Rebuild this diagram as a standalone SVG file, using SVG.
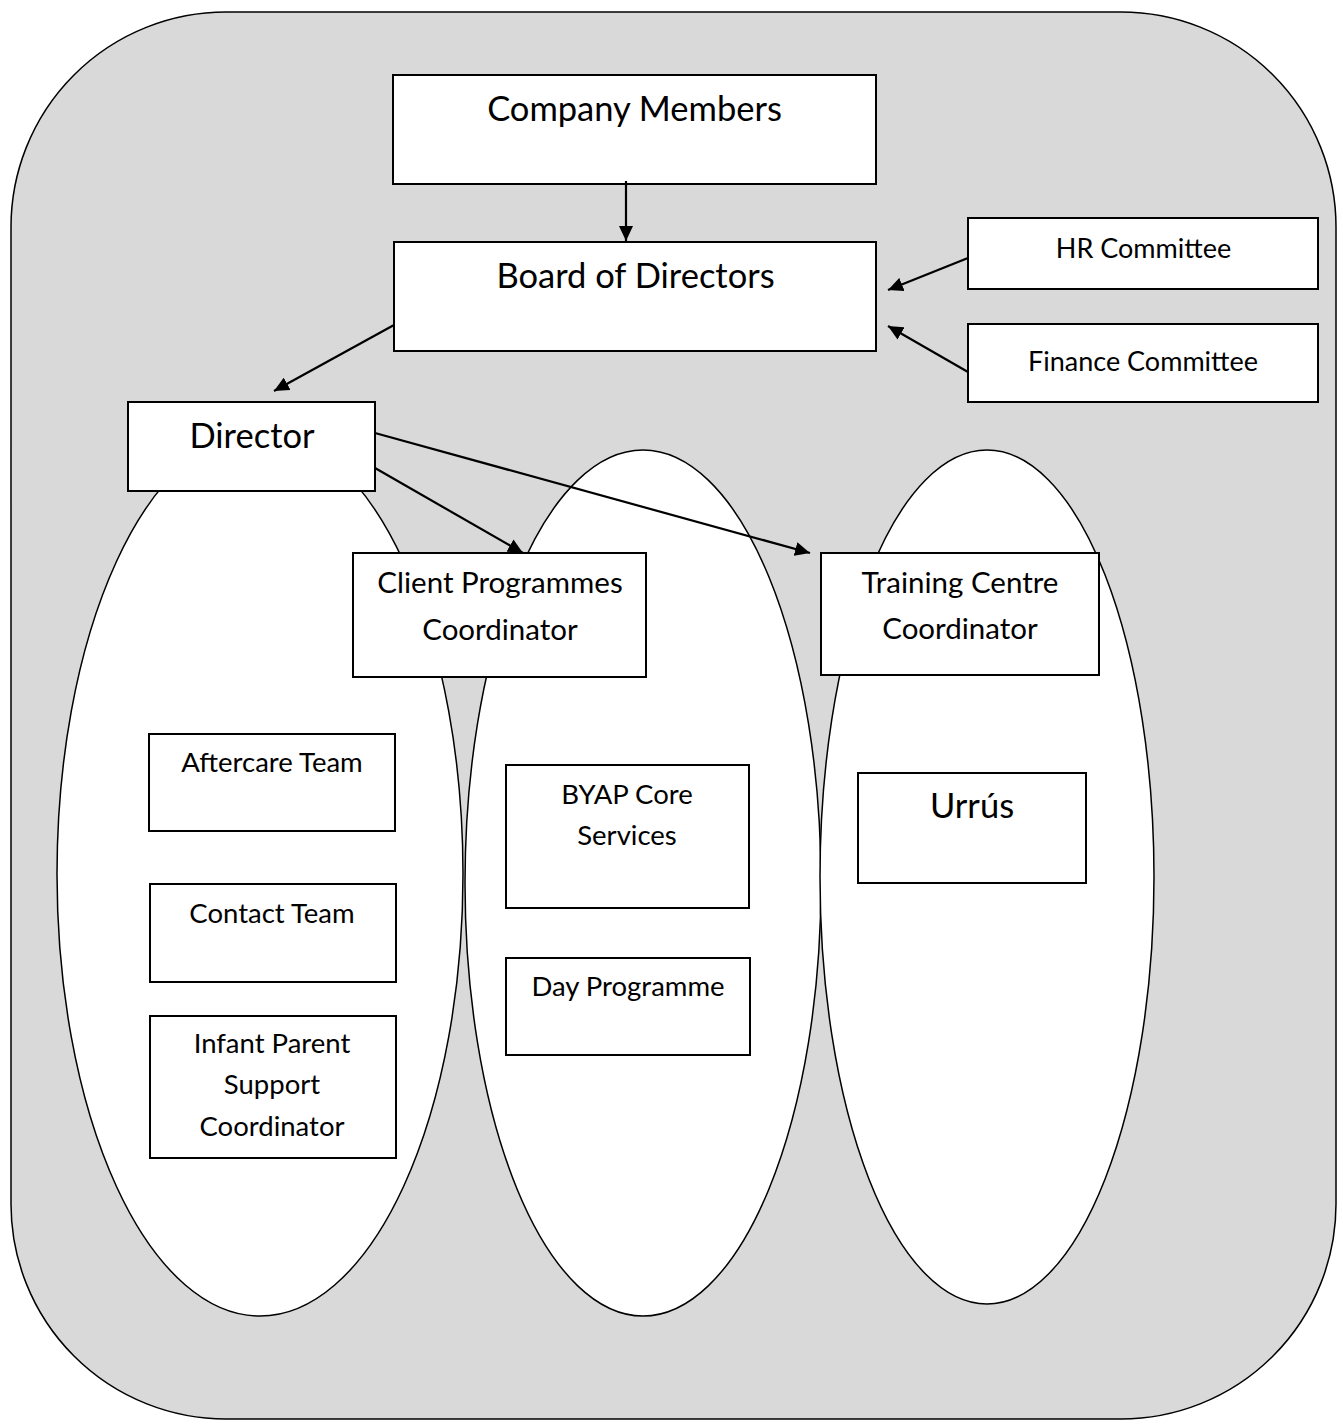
<svg xmlns="http://www.w3.org/2000/svg" width="1343" height="1427" viewBox="0 0 1343 1427">
<style>
.box{fill:#ffffff;stroke:#000000;stroke-width:2}
.ell{fill:#ffffff;stroke:#000000;stroke-width:1.5}
.conn{stroke:#000000;stroke-width:2.2;fill:none;marker-end:url(#ah)}
text{font-family:Lato,"Open Sans","Liberation Sans",sans-serif;fill:#000000;text-anchor:middle}
.lg{font-size:34.5px}
.cp{font-size:29.5px}
.md{font-size:27.5px}
.sm{font-size:27px}
</style>
<defs>
<marker id="ah" markerUnits="userSpaceOnUse" markerWidth="16" markerHeight="14" refX="15" refY="7" orient="auto">
<path d="M0,0 L15,7 L0,14 z" fill="#000000"/>
</marker>
</defs>
<rect id="frame" x="11" y="12" width="1325" height="1407" rx="215" ry="215" fill="#d9d9d9" stroke="#000000" stroke-width="1.5"/>
<g id="ellipses">
<ellipse id="ell-left" class="ell" cx="260" cy="874" rx="203" ry="442"/>
<ellipse id="ell-mid" class="ell" cx="643" cy="883" rx="178" ry="433"/>
<ellipse id="ell-right" class="ell" cx="987" cy="877" rx="167" ry="427"/>
</g>
<g id="company-members"><rect class="box" x="393" y="75" width="483" height="109"/><text class="lg" x="634.5" y="121">Company Members</text></g>
<g id="board"><rect class="box" x="394" y="242" width="482" height="109"/><text class="lg" x="635.5" y="288">Board of Directors</text></g>
<g id="hr"><rect class="box" x="968" y="218" width="350" height="71"/><text class="sm" x="1143.5" y="258">HR Committee</text></g>
<g id="finance"><rect class="box" x="968" y="324" width="350" height="78"/><text class="sm" x="1143" y="371">Finance Committee</text></g>
<g id="director"><rect class="box" x="128" y="402" width="247" height="89"/><text class="lg" x="252" y="448">Director</text></g>
<g id="cpc"><rect class="box" x="353" y="553" width="293" height="124"/><text class="cp" x="500" y="593">Client Programmes</text><text class="cp" x="500" y="640">Coordinator</text></g>
<g id="tcc"><rect class="box" x="821" y="553" width="278" height="122"/><text class="cp" x="960" y="593">Training Centre</text><text class="cp" x="960" y="639">Coordinator</text></g>
<g id="aftercare"><rect class="box" x="149" y="734" width="246" height="97"/><text class="md" x="272" y="772">Aftercare Team</text></g>
<g id="contact"><rect class="box" x="150" y="884" width="246" height="98"/><text class="md" x="272" y="923">Contact Team</text></g>
<g id="infant"><rect class="box" x="150" y="1016" width="246" height="142"/><text class="md" x="272" y="1053">Infant Parent</text><text class="md" x="272" y="1094">Support</text><text class="md" x="272" y="1136">Coordinator</text></g>
<g id="byap"><rect class="box" x="506" y="765" width="243" height="143"/><text class="md" x="627" y="804">BYAP Core</text><text class="md" x="627" y="845">Services</text></g>
<g id="day"><rect class="box" x="506" y="958" width="244" height="97"/><text class="md" x="628" y="996">Day Programme</text></g>
<g id="urrus"><rect class="box" x="858" y="773" width="228" height="110"/><text class="lg" x="972" y="818">Urrús</text></g>
<g id="connectors">
<line class="conn" x1="626" y1="181" x2="626" y2="241"/>
<line class="conn" x1="968" y1="258" x2="888" y2="290"/>
<line class="conn" x1="968" y1="372" x2="888" y2="326"/>
<line class="conn" x1="394" y1="325" x2="274" y2="391"/>
<line class="conn" x1="375" y1="468" x2="523" y2="553"/>
<line class="conn" x1="375" y1="433" x2="810" y2="553"/>
</g>
</svg>
